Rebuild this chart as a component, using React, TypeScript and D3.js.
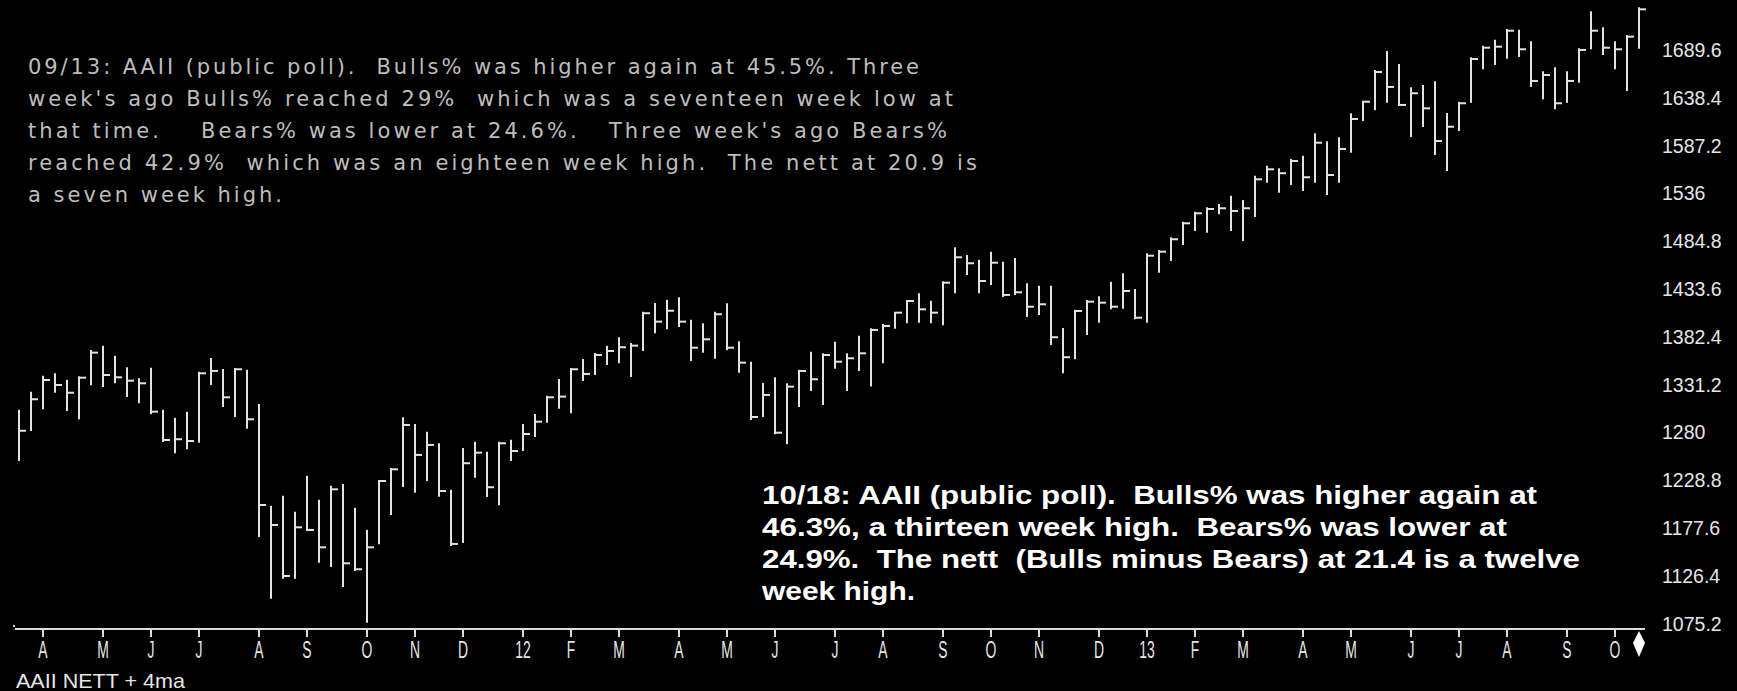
import React, { useEffect } from 'react';
import * as d3 from 'd3';

// Weekly S&P-style HLC bars, first week ending 18 Mar 2011
const firstWeekEnd = new Date(2011, 2, 18);

const highs = [
  1303.3, 1322.5, 1339.7, 1342.2, 1335.4, 1339.0, 1367.2, 1371.8, 1361.1, 1348.7,
  1336.9, 1348.2, 1303.3, 1294.7, 1301.1, 1344.0, 1358.6, 1346.9, 1347.9, 1346.1,
  1309.4, 1200.5, 1211.2, 1194.1, 1232.6, 1206.9, 1221.9, 1223.7, 1198.4, 1174.8,
  1228.0, 1240.9, 1295.1, 1288.0, 1279.7, 1267.3, 1217.6, 1262.3, 1269.0, 1258.3,
  1269.0, 1271.2, 1288.0, 1298.7, 1318.3, 1336.1, 1347.9, 1357.6, 1364.0, 1371.8,
  1380.8, 1374.7, 1408.2, 1417.5, 1421.1, 1423.6, 1399.6, 1395.8, 1408.2, 1417.2,
  1376.5, 1354.7, 1331.9, 1338.0, 1331.5, 1346.1, 1365.4, 1363.7, 1376.1, 1363.7,
  1382.5, 1390.4, 1395.0, 1408.2, 1420.7, 1427.9, 1420.0, 1440.8, 1477.2, 1468.9,
  1463.9, 1472.4, 1461.7, 1465.7, 1438.6, 1436.0, 1436.0, 1390.8, 1410.3, 1420.7,
  1424.7, 1440.3, 1449.3, 1432.5, 1470.7, 1474.3, 1487.9, 1504.6, 1515.3, 1520.0,
  1523.5, 1532.4, 1527.8, 1553.8, 1564.5, 1561.7, 1571.7, 1575.2, 1599.2, 1590.6,
  1594.9, 1620.6, 1634.1, 1667.0, 1687.3, 1673.4, 1648.5, 1650.9, 1654.9, 1620.9,
  1633.0, 1680.6, 1693.0, 1699.4, 1710.9, 1710.1, 1697.7, 1665.6, 1669.9, 1665.6,
  1690.2, 1729.8, 1712.7, 1697.7, 1704.5, 1734.1,
];

const lows = [
  1250.5, 1282.6, 1305.8, 1323.6, 1304.0, 1295.1, 1331.5, 1329.7, 1333.7, 1319.0,
  1312.3, 1300.5, 1270.8, 1258.7, 1263.0, 1270.1, 1331.9, 1308.3, 1297.6, 1285.1,
  1169.1, 1103.1, 1124.5, 1124.5, 1175.5, 1141.6, 1137.0, 1115.6, 1132.7, 1077.4,
  1161.3, 1192.7, 1222.7, 1216.6, 1229.1, 1212.3, 1159.5, 1162.7, 1232.6, 1212.0,
  1203.1, 1250.5, 1261.2, 1276.2, 1291.5, 1306.5, 1301.6, 1336.1, 1342.6, 1353.3,
  1355.1, 1340.4, 1368.3, 1387.2, 1391.5, 1394.0, 1357.6, 1366.4, 1360.0, 1369.0,
  1345.0, 1294.4, 1297.6, 1279.1, 1268.4, 1308.3, 1325.4, 1310.5, 1349.3, 1325.4,
  1346.9, 1330.1, 1355.1, 1392.1, 1397.9, 1398.6, 1397.9, 1395.8, 1430.0, 1449.6,
  1430.0, 1438.9, 1426.1, 1428.2, 1404.7, 1406.8, 1374.7, 1344.4, 1359.4, 1385.4,
  1398.6, 1412.9, 1413.6, 1402.2, 1398.6, 1452.1, 1464.6, 1481.8, 1496.7, 1494.9,
  1514.6, 1496.7, 1486.0, 1511.7, 1548.5, 1537.8, 1546.0, 1539.6, 1548.5, 1535.3,
  1548.5, 1580.6, 1614.5, 1626.0, 1634.1, 1630.6, 1597.4, 1608.1, 1578.1, 1561.0,
  1603.8, 1634.1, 1669.9, 1674.5, 1681.2, 1683.0, 1650.9, 1637.8, 1627.0, 1634.1,
  1655.5, 1691.3, 1685.2, 1669.9, 1646.6, 1691.9,
];

const closes = [
  1281.8, 1315.5, 1336.1, 1330.8, 1322.5, 1338.6, 1365.4, 1341.5, 1339.0, 1335.4,
  1332.6, 1302.2, 1271.9, 1272.7, 1270.8, 1343.3, 1345.8, 1317.6, 1347.6, 1294.1,
  1202.3, 1180.9, 1126.3, 1178.4, 1175.5, 1157.0, 1219.1, 1139.9, 1133.5, 1157.0,
  1228.0, 1240.5, 1288.0, 1255.9, 1266.6, 1217.3, 1160.6, 1247.0, 1258.3, 1221.3,
  1268.4, 1260.1, 1278.3, 1291.5, 1317.6, 1318.3, 1347.6, 1342.6, 1362.9, 1367.2,
  1371.2, 1372.9, 1407.6, 1398.6, 1410.3, 1398.6, 1370.7, 1379.7, 1406.5, 1370.7,
  1354.7, 1296.5, 1320.1, 1279.7, 1329.0, 1345.8, 1336.9, 1362.9, 1355.7, 1359.4,
  1364.7, 1389.7, 1394.0, 1408.2, 1420.7, 1411.8, 1408.2, 1440.3, 1467.5, 1461.1,
  1442.1, 1461.7, 1427.2, 1430.0, 1414.6, 1417.2, 1381.9, 1360.5, 1410.0, 1420.0,
  1418.9, 1414.6, 1431.4, 1402.8, 1469.2, 1473.5, 1486.8, 1503.9, 1514.6, 1519.2,
  1520.0, 1517.1, 1520.0, 1551.0, 1561.7, 1557.5, 1570.6, 1553.2, 1590.2, 1555.6,
  1583.5, 1615.6, 1634.1, 1665.9, 1649.9, 1630.6, 1643.1, 1627.0, 1592.0, 1607.3,
  1632.4, 1679.8, 1691.9, 1693.0, 1710.1, 1690.2, 1656.3, 1662.7, 1632.4, 1656.3,
  1689.5, 1710.1, 1691.9, 1690.2, 1703.7, 1733.0,
];

const priceTicks = [
  1075.2, 1126.4, 1177.6, 1228.8, 1280, 1331.2, 1382.4, 1433.6, 1484.8, 1536, 1587.2, 1638.4, 1689.6,
];

const monthLabels = [
  'A', 'M', 'J', 'J', 'A', 'S', 'O', 'N', 'D', '12', 'F', 'M', 'A', 'M', 'J', 'J',
  'A', 'S', 'O', 'N', 'D', '13', 'F', 'M', 'A', 'M', 'J', 'J', 'A', 'S', 'O',
];

const noteTop = [
  '09/13: AAII (public poll).  Bulls% was higher again at 45.5%. Three',
  "week's ago Bulls% reached 29%  which was a seventeen week low at",
  "that time.    Bears% was lower at 24.6%.   Three week's ago Bears%",
  'reached 42.9%  which was an eighteen week high.  The nett at 20.9 is',
  'a seven week high.',
];
const noteTopWidths = [891, 925, 919, 949, 254];

const noteBottom = [
  '10/18: AAII (public poll).  Bulls% was higher again at',
  '46.3%, a thirteen week high.  Bears% was lower at',
  '24.9%.  The nett  (Bulls minus Bears) at 21.4 is a twelve',
  'week high.',
];
const noteBottomWidths = [775, 745, 818, 153];

const indicatorTitle = 'AAII NETT + 4ma';

const W = 1737;
const H = 691;

export default function App() {
  useEffect(() => {
    document.body.style.margin = '0';
    document.body.style.background = '#000';
  }, []);

  const n = highs.length;
  const dates = d3.range(n).map((i) => d3.timeDay.offset(firstWeekEnd, 7 * i));
  const x = d3.scaleLinear().domain([0, n - 1]).range([19, 1639]);
  const y = d3.scaleLinear().domain([1075.2, 1689.6]).range([623.7, 49.85]);

  const monthStarts: number[] = [];
  for (let i = 1; i < n; i++) {
    if (dates[i].getMonth() !== dates[i - 1].getMonth()) monthStarts.push(i);
  }

  const axisY = 629;
  const barColor = '#e2e2e2';

  return (
    <svg width={W} height={H} style={{ display: 'block', background: '#000' }}>
      <rect x={0} y={0} width={W} height={H} fill="#000" />

      {/* top-left note */}
      {noteTop.map((t, i) => (
        <text
          key={'nt' + i}
          x={28}
          y={74 + i * 32.1}
          fill="#bdbdbd"
          fontFamily="DejaVu Sans, Verdana, sans-serif"
          fontSize={21}
          textLength={noteTopWidths[i]}
          lengthAdjust="spacing"
          style={{ whiteSpace: 'pre' }}
        >
          {t}
        </text>
      ))}

      {/* bars */}
      {highs.map((h, i) => {
        const xi = Math.round(x(i));
        return (
          <g key={'b' + i} stroke={barColor} strokeWidth={2}>
            <line x1={xi} x2={xi} y1={y(h) - 1} y2={y(lows[i]) + 1} />
            <line x1={xi + 1} x2={xi + 7} y1={y(closes[i])} y2={y(closes[i])} />
          </g>
        );
      })}

      {/* bottom note */}
      {noteBottom.map((t, i) => (
        <text
          key={'nb' + i}
          x={762}
          y={504 + i * 32.1}
          fill="#ffffff"
          fontFamily="Liberation Sans, Arial, sans-serif"
          fontWeight="bold"
          fontSize={25}
          textLength={noteBottomWidths[i]}
          lengthAdjust="spacingAndGlyphs"
          style={{ whiteSpace: 'pre' }}
        >
          {t}
        </text>
      ))}

      {/* price axis labels */}
      {priceTicks.map((v) => (
        <text
          key={'p' + v}
          x={1662}
          y={y(v)}
          dy="0.36em"
          fill="#e6e6e6"
          fontFamily="Liberation Sans, Arial, sans-serif"
          fontSize={19.5}
        >
          {String(v)}
        </text>
      ))}

      {/* time axis */}
      <rect x={13} y={625} width={2} height={2} fill="#cfcfcf" />
      <line x1={15} x2={1645} y1={axisY} y2={axisY} stroke="#dcdcdc" strokeWidth={2} />
      {monthStarts.map((idx, k) => {
        const xi = Math.round(x(idx));
        return (
          <g key={'m' + idx}>
            <line x1={xi} x2={xi} y1={axisY} y2={axisY + 8} stroke="#dcdcdc" strokeWidth={2} />
            <text
              transform={`translate(${xi},658) scale(0.58,1)`}
              textAnchor="middle"
              fill="#e6e6e6"
              fontFamily="Liberation Sans, Arial, sans-serif"
              fontSize={24}
            >
              {monthLabels[k] ?? ''}
            </text>
          </g>
        );
      })}
      {/* last bar marker */}
      <path
        d={`M${x(n - 1)},${axisY + 2} L${x(n - 1) + 6},${axisY + 14} L${x(n - 1)},${axisY + 28} L${x(n - 1) - 6},${axisY + 14} Z`}
        fill="#ffffff"
      />

      <text
        x={16}
        y={688}
        fill="#e6e6e6"
        fontFamily="Liberation Sans, Arial, sans-serif"
        fontSize={21}
        textLength={169}
        lengthAdjust="spacingAndGlyphs"
      >
        {indicatorTitle}
      </text>
    </svg>
  );
}
